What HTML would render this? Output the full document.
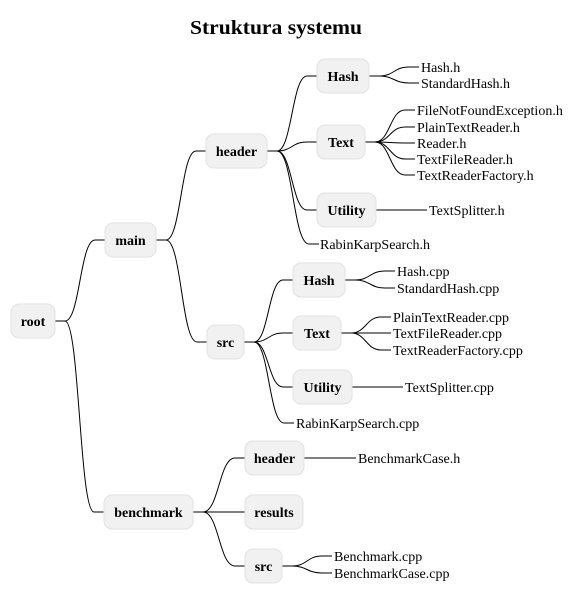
<!DOCTYPE html>
<html><head><meta charset="utf-8"><style>
html,body{margin:0;padding:0;background:#fff;}
svg{display:block;}
text{font-family:"Liberation Serif",serif;font-size:14px;fill:#000;}
.b{font-weight:bold;}
rect{fill:#f1f1f1;stroke:#e2e2e2;stroke-width:1;}
path{fill:none;stroke:#000;stroke-width:1;}
</style></head><body>
<svg width="575" height="604" viewBox="0 0 575 604" xmlns="http://www.w3.org/2000/svg">
<text x="190" y="34" class="b" style="font-size:20px" textLength="172" lengthAdjust="spacingAndGlyphs">Struktura systemu</text>
<g>
<path d="M55 321 L65 321 C80 321 80 240 95 240 L105 240"/>
<path d="M55 321 L65 321 C79.5 321 79.5 512 94 512 L104 512"/>
<path d="M156 240 L166 240 C181 240 181 151 196 151 L206 151"/>
<path d="M156 240 L166 240 C181.5 240 181.5 342 197 342 L207 342"/>
<path d="M267 151 L277 151 C292 151 292 76 307 76 L317 76"/>
<path d="M267 151 L277 151 C292 151 292 142 307 142 L317 142"/>
<path d="M267 151 L277 151 C292 151 292 210 307 210 L317 210"/>
<path d="M267 151 L277 151 C293 151 293 244 309 244 L319 244"/>
<path d="M369 76 L379 76 C394 76 394 67 409 67 L419 67"/>
<path d="M369 76 L379 76 C394 76 394 83 409 83 L419 83"/>
<path d="M365 142 L375 142 C390 142 390 110 405 110 L415 110"/>
<path d="M365 142 L375 142 C390 142 390 127 405 127 L415 127"/>
<path d="M365 142 L375 142 C390 142 390 143 405 143 L415 143"/>
<path d="M365 142 L375 142 C390 142 390 159 405 159 L415 159"/>
<path d="M365 142 L375 142 C390 142 390 175 405 175 L415 175"/>
<path d="M376 210 L427 210"/>
<path d="M244 342 L254 342 C268.5 342 268.5 280 283 280 L293 280"/>
<path d="M244 342 L254 342 C268.5 342 268.5 333 283 333 L293 333"/>
<path d="M244 342 L254 342 C268.5 342 268.5 387 283 387 L293 387"/>
<path d="M244 342 L254 342 C269 342 269 423 284 423 L294 423"/>
<path d="M345 280 L355 280 C370 280 370 271 385 271 L395 271"/>
<path d="M345 280 L355 280 C370 280 370 288 385 288 L395 288"/>
<path d="M341 333 L351 333 C366 333 366 317 381 317 L391 317"/>
<path d="M341 333 L351 333 C366 333 366 333 381 333 L391 333"/>
<path d="M341 333 L351 333 C366 333 366 350 381 350 L391 350"/>
<path d="M352 387 L403 387"/>
<path d="M193 512 L203 512 C219 512 219 458 235 458 L245 458"/>
<path d="M193 512 L245 512"/>
<path d="M193 512 L203 512 C219 512 219 566 235 566 L245 566"/>
<path d="M304 458 L356 458"/>
<path d="M282 566 L292 566 C307 566 307 556 322 556 L332 556"/>
<path d="M282 566 L292 566 C307 566 307 573 322 573 L332 573"/>
</g>
<g>
<rect x="11" y="304" width="44" height="34" rx="8"/><text x="33" y="326" text-anchor="middle" class="b">root</text>
<rect x="105" y="223" width="51" height="34" rx="8"/><text x="130.5" y="245" text-anchor="middle" class="b">main</text>
<rect x="206" y="134" width="61" height="34" rx="8"/><text x="236.5" y="156" text-anchor="middle" class="b">header</text>
<rect x="207" y="325" width="37" height="34" rx="8"/><text x="225.5" y="347" text-anchor="middle" class="b">src</text>
<rect x="104" y="495" width="89" height="34" rx="8"/><text x="148.5" y="517" text-anchor="middle" class="b">benchmark</text>
<rect x="317" y="59" width="52" height="34" rx="8"/><text x="343" y="81" text-anchor="middle" class="b">Hash</text>
<rect x="317" y="125" width="48" height="34" rx="8"/><text x="341" y="147" text-anchor="middle" class="b">Text</text>
<rect x="317" y="193" width="59" height="34" rx="8"/><text x="346.5" y="215" text-anchor="middle" class="b">Utility</text>
<rect x="293" y="263" width="52" height="34" rx="8"/><text x="319" y="285" text-anchor="middle" class="b">Hash</text>
<rect x="293" y="316" width="48" height="34" rx="8"/><text x="317" y="338" text-anchor="middle" class="b">Text</text>
<rect x="293" y="370" width="59" height="34" rx="8"/><text x="322.5" y="392" text-anchor="middle" class="b">Utility</text>
<rect x="245" y="441" width="59" height="34" rx="8"/><text x="274.5" y="463" text-anchor="middle" class="b">header</text>
<rect x="245" y="495" width="58" height="34" rx="8"/><text x="274" y="517" text-anchor="middle" class="b">results</text>
<rect x="245" y="549" width="37" height="34" rx="8"/><text x="263.5" y="571" text-anchor="middle" class="b">src</text>
</g>
<g>
<text x="421" y="72">Hash.h</text>
<text x="421" y="88">StandardHash.h</text>
<text x="417" y="115">FileNotFoundException.h</text>
<text x="417" y="132">PlainTextReader.h</text>
<text x="417" y="148">Reader.h</text>
<text x="417" y="164">TextFileReader.h</text>
<text x="417" y="180">TextReaderFactory.h</text>
<text x="429" y="215">TextSplitter.h</text>
<text x="320" y="249">RabinKarpSearch.h</text>
<text x="397" y="276">Hash.cpp</text>
<text x="397" y="293">StandardHash.cpp</text>
<text x="393" y="322">PlainTextReader.cpp</text>
<text x="393" y="338">TextFileReader.cpp</text>
<text x="393" y="355">TextReaderFactory.cpp</text>
<text x="405" y="392">TextSplitter.cpp</text>
<text x="296" y="428">RabinKarpSearch.cpp</text>
<text x="358" y="463">BenchmarkCase.h</text>
<text x="334" y="561">Benchmark.cpp</text>
<text x="334" y="578">BenchmarkCase.cpp</text>
</g>
</svg>
</body></html>
